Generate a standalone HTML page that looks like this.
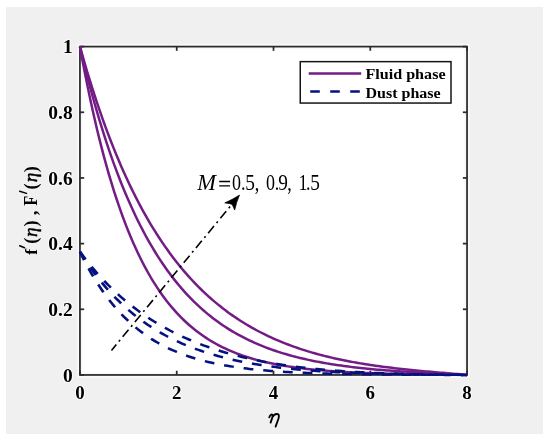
<!DOCTYPE html>
<html><head><meta charset="utf-8"><style>
html,body{margin:0;padding:0;background:#fff;}
body{width:550px;height:443px;overflow:hidden;position:relative;font-family:"Liberation Serif",serif;}
.bg{position:absolute;left:6px;top:7px;width:536.6px;height:426.7px;background:#f0f0f0;}
svg{position:absolute;left:0;top:0;filter:blur(0.35px);}
</style></head><body>
<div class="bg"></div>
<svg width="550" height="443" viewBox="0 0 550 443">
<rect x="79.95" y="46.6" width="387.1" height="328.34999999999997" fill="#fff" stroke="#f9f9f9" stroke-width="5.5"/>
<line x1="79.95" y1="374.95" x2="79.95" y2="370.75" stroke="#2b2b2b" stroke-width="1.75"/>
<line x1="79.95" y1="46.6" x2="79.95" y2="50.800000000000004" stroke="#2b2b2b" stroke-width="1.75"/>
<line x1="176.73" y1="374.95" x2="176.73" y2="370.75" stroke="#2b2b2b" stroke-width="1.75"/>
<line x1="176.73" y1="46.6" x2="176.73" y2="50.800000000000004" stroke="#2b2b2b" stroke-width="1.75"/>
<line x1="273.50" y1="374.95" x2="273.50" y2="370.75" stroke="#2b2b2b" stroke-width="1.75"/>
<line x1="273.50" y1="46.6" x2="273.50" y2="50.800000000000004" stroke="#2b2b2b" stroke-width="1.75"/>
<line x1="370.28" y1="374.95" x2="370.28" y2="370.75" stroke="#2b2b2b" stroke-width="1.75"/>
<line x1="370.28" y1="46.6" x2="370.28" y2="50.800000000000004" stroke="#2b2b2b" stroke-width="1.75"/>
<line x1="467.05" y1="374.95" x2="467.05" y2="370.75" stroke="#2b2b2b" stroke-width="1.75"/>
<line x1="467.05" y1="46.6" x2="467.05" y2="50.800000000000004" stroke="#2b2b2b" stroke-width="1.75"/>
<line x1="79.95" y1="374.95" x2="84.15" y2="374.95" stroke="#2b2b2b" stroke-width="1.75"/>
<line x1="467.05" y1="374.95" x2="462.85" y2="374.95" stroke="#2b2b2b" stroke-width="1.75"/>
<line x1="79.95" y1="309.28" x2="84.15" y2="309.28" stroke="#2b2b2b" stroke-width="1.75"/>
<line x1="467.05" y1="309.28" x2="462.85" y2="309.28" stroke="#2b2b2b" stroke-width="1.75"/>
<line x1="79.95" y1="243.61" x2="84.15" y2="243.61" stroke="#2b2b2b" stroke-width="1.75"/>
<line x1="467.05" y1="243.61" x2="462.85" y2="243.61" stroke="#2b2b2b" stroke-width="1.75"/>
<line x1="79.95" y1="177.94" x2="84.15" y2="177.94" stroke="#2b2b2b" stroke-width="1.75"/>
<line x1="467.05" y1="177.94" x2="462.85" y2="177.94" stroke="#2b2b2b" stroke-width="1.75"/>
<line x1="79.95" y1="112.27" x2="84.15" y2="112.27" stroke="#2b2b2b" stroke-width="1.75"/>
<line x1="467.05" y1="112.27" x2="462.85" y2="112.27" stroke="#2b2b2b" stroke-width="1.75"/>
<line x1="79.95" y1="46.60" x2="84.15" y2="46.60" stroke="#2b2b2b" stroke-width="1.75"/>
<line x1="467.05" y1="46.60" x2="462.85" y2="46.60" stroke="#2b2b2b" stroke-width="1.75"/>
<rect x="79.95" y="46.6" width="387.1" height="328.34999999999997" fill="none" stroke="#2b2b2b" stroke-width="1.75"/>
<path d="M79.95,46.60 L82.37,55.21 L84.79,63.60 L87.21,71.76 L89.63,79.71 L92.05,87.45 L94.47,94.99 L96.89,102.33 L99.31,109.47 L101.72,116.43 L104.14,123.21 L106.56,129.81 L108.98,136.24 L111.40,142.50 L113.82,148.60 L116.24,154.54 L118.66,160.32 L121.08,165.96 L123.50,171.45 L125.92,176.80 L128.34,182.01 L130.76,187.09 L133.18,192.03 L135.60,196.85 L138.01,201.55 L140.43,206.12 L142.85,210.58 L145.27,214.92 L147.69,219.15 L150.11,223.28 L152.53,227.30 L154.95,231.21 L157.37,235.03 L159.79,238.74 L162.21,242.37 L164.63,245.90 L167.05,249.34 L169.47,252.69 L171.89,255.96 L174.31,259.14 L176.73,262.25 L179.14,265.27 L181.56,268.22 L183.98,271.09 L186.40,273.89 L188.82,276.61 L191.24,279.27 L193.66,281.86 L196.08,284.39 L198.50,286.85 L200.92,289.24 L203.34,291.58 L205.76,293.86 L208.18,296.07 L210.60,298.24 L213.02,300.34 L215.44,302.40 L217.85,304.40 L220.27,306.34 L222.69,308.24 L225.11,310.09 L227.53,311.90 L229.95,313.65 L232.37,315.36 L234.79,317.03 L237.21,318.66 L239.63,320.24 L242.05,321.78 L244.47,323.28 L246.89,324.74 L249.31,326.17 L251.73,327.56 L254.15,328.91 L256.56,330.23 L258.98,331.51 L261.40,332.76 L263.82,333.97 L266.24,335.16 L268.66,336.31 L271.08,337.44 L273.50,338.53 L275.92,339.60 L278.34,340.63 L280.76,341.64 L283.18,342.63 L285.60,343.59 L288.02,344.52 L290.44,345.42 L292.86,346.31 L295.27,347.17 L297.69,348.00 L300.11,348.82 L302.53,349.61 L304.95,350.38 L307.37,351.13 L309.79,351.87 L312.21,352.58 L314.63,353.27 L317.05,353.94 L319.47,354.60 L321.89,355.23 L324.31,355.86 L326.73,356.46 L329.15,357.05 L331.57,357.62 L333.98,358.17 L336.40,358.71 L338.82,359.24 L341.24,359.75 L343.66,360.25 L346.08,360.74 L348.50,361.21 L350.92,361.67 L353.34,362.11 L355.76,362.55 L358.18,362.97 L360.60,363.38 L363.02,363.78 L365.44,364.18 L367.86,364.56 L370.28,364.93 L372.69,365.29 L375.11,365.64 L377.53,365.98 L379.95,366.31 L382.37,366.64 L384.79,366.95 L387.21,367.26 L389.63,367.56 L392.05,367.86 L394.47,368.15 L396.89,368.43 L399.31,368.70 L401.73,368.97 L404.15,369.23 L406.57,369.49 L408.99,369.74 L411.40,369.99 L413.82,370.23 L416.24,370.47 L418.66,370.70 L421.08,370.93 L423.50,371.15 L425.92,371.38 L428.34,371.60 L430.76,371.81 L433.18,372.03 L435.60,372.24 L438.02,372.45 L440.44,372.66 L442.86,372.87 L445.28,373.07 L447.69,373.28 L450.11,373.49 L452.53,373.69 L454.95,373.90 L457.37,374.11 L459.79,374.31 L462.21,374.52 L464.63,374.74 L467.05,374.95" fill="none" stroke="#731c86" stroke-width="2.5"/>
<path d="M79.95,46.60 L82.37,56.74 L84.79,66.57 L87.21,76.10 L89.63,85.34 L92.05,94.29 L94.47,102.98 L96.89,111.40 L99.31,119.56 L101.72,127.47 L104.14,135.15 L106.56,142.59 L108.98,149.80 L111.40,156.79 L113.82,163.57 L116.24,170.14 L118.66,176.51 L121.08,182.69 L123.50,188.68 L125.92,194.48 L128.34,200.11 L130.76,205.56 L133.18,210.85 L135.60,215.98 L138.01,220.95 L140.43,225.77 L142.85,230.44 L145.27,234.97 L147.69,239.36 L150.11,243.61 L152.53,247.74 L154.95,251.74 L157.37,255.61 L159.79,259.37 L162.21,263.01 L164.63,266.54 L167.05,269.96 L169.47,273.28 L171.89,276.49 L174.31,279.61 L176.73,282.63 L179.14,285.55 L181.56,288.39 L183.98,291.14 L186.40,293.80 L188.82,296.39 L191.24,298.89 L193.66,301.31 L196.08,303.66 L198.50,305.94 L200.92,308.15 L203.34,310.29 L205.76,312.36 L208.18,314.37 L210.60,316.31 L213.02,318.20 L215.44,320.02 L217.85,321.79 L220.27,323.51 L222.69,325.17 L225.11,326.78 L227.53,328.34 L229.95,329.85 L232.37,331.31 L234.79,332.73 L237.21,334.10 L239.63,335.43 L242.05,336.72 L244.47,337.97 L246.89,339.18 L249.31,340.35 L251.73,341.49 L254.15,342.58 L256.56,343.65 L258.98,344.68 L261.40,345.68 L263.82,346.64 L266.24,347.58 L268.66,348.48 L271.08,349.36 L273.50,350.21 L275.92,351.04 L278.34,351.83 L280.76,352.60 L283.18,353.35 L285.60,354.07 L288.02,354.77 L290.44,355.45 L292.86,356.11 L295.27,356.74 L297.69,357.36 L300.11,357.95 L302.53,358.53 L304.95,359.09 L307.37,359.63 L309.79,360.15 L312.21,360.66 L314.63,361.15 L317.05,361.62 L319.47,362.08 L321.89,362.53 L324.31,362.96 L326.73,363.37 L329.15,363.78 L331.57,364.17 L333.98,364.55 L336.40,364.91 L338.82,365.27 L341.24,365.61 L343.66,365.94 L346.08,366.26 L348.50,366.57 L350.92,366.88 L353.34,367.17 L355.76,367.45 L358.18,367.72 L360.60,367.99 L363.02,368.25 L365.44,368.50 L367.86,368.74 L370.28,368.97 L372.69,369.20 L375.11,369.42 L377.53,369.63 L379.95,369.84 L382.37,370.04 L384.79,370.24 L387.21,370.43 L389.63,370.61 L392.05,370.79 L394.47,370.97 L396.89,371.14 L399.31,371.30 L401.73,371.47 L404.15,371.62 L406.57,371.78 L408.99,371.93 L411.40,372.07 L413.82,372.22 L416.24,372.36 L418.66,372.49 L421.08,372.63 L423.50,372.76 L425.92,372.89 L428.34,373.02 L430.76,373.15 L433.18,373.27 L435.60,373.39 L438.02,373.52 L440.44,373.64 L442.86,373.76 L445.28,373.87 L447.69,373.99 L450.11,374.11 L452.53,374.23 L454.95,374.35 L457.37,374.47 L459.79,374.59 L462.21,374.71 L464.63,374.83 L467.05,374.95" fill="none" stroke="#731c86" stroke-width="2.5"/>
<path d="M79.95,46.60 L82.37,59.79 L84.79,72.45 L87.21,84.62 L89.63,96.30 L92.05,107.53 L94.47,118.31 L96.89,128.66 L99.31,138.61 L101.72,148.16 L104.14,157.33 L106.56,166.14 L108.98,174.59 L111.40,182.72 L113.82,190.51 L116.24,198.00 L118.66,205.19 L121.08,212.10 L123.50,218.72 L125.92,225.09 L128.34,231.19 L130.76,237.06 L133.18,242.69 L135.60,248.09 L138.01,253.28 L140.43,258.26 L142.85,263.03 L145.27,267.62 L147.69,272.02 L150.11,276.25 L152.53,280.30 L154.95,284.19 L157.37,287.93 L159.79,291.51 L162.21,294.95 L164.63,298.25 L167.05,301.41 L169.47,304.45 L171.89,307.36 L174.31,310.16 L176.73,312.84 L179.14,315.41 L181.56,317.88 L183.98,320.25 L186.40,322.52 L188.82,324.70 L191.24,326.79 L193.66,328.79 L196.08,330.72 L198.50,332.56 L200.92,334.33 L203.34,336.02 L205.76,337.65 L208.18,339.21 L210.60,340.70 L213.02,342.14 L215.44,343.51 L217.85,344.83 L220.27,346.10 L222.69,347.31 L225.11,348.47 L227.53,349.58 L229.95,350.65 L232.37,351.68 L234.79,352.66 L237.21,353.60 L239.63,354.50 L242.05,355.36 L244.47,356.19 L246.89,356.99 L249.31,357.75 L251.73,358.48 L254.15,359.18 L256.56,359.84 L258.98,360.49 L261.40,361.10 L263.82,361.69 L266.24,362.26 L268.66,362.80 L271.08,363.32 L273.50,363.81 L275.92,364.29 L278.34,364.74 L280.76,365.18 L283.18,365.60 L285.60,366.00 L288.02,366.39 L290.44,366.75 L292.86,367.11 L295.27,367.44 L297.69,367.77 L300.11,368.08 L302.53,368.37 L304.95,368.66 L307.37,368.93 L309.79,369.19 L312.21,369.44 L314.63,369.68 L317.05,369.91 L319.47,370.13 L321.89,370.34 L324.31,370.54 L326.73,370.73 L329.15,370.92 L331.57,371.09 L333.98,371.26 L336.40,371.43 L338.82,371.58 L341.24,371.73 L343.66,371.87 L346.08,372.01 L348.50,372.14 L350.92,372.26 L353.34,372.38 L355.76,372.50 L358.18,372.61 L360.60,372.72 L363.02,372.82 L365.44,372.91 L367.86,373.01 L370.28,373.10 L372.69,373.18 L375.11,373.26 L377.53,373.34 L379.95,373.42 L382.37,373.49 L384.79,373.56 L387.21,373.63 L389.63,373.69 L392.05,373.75 L394.47,373.81 L396.89,373.87 L399.31,373.92 L401.73,373.98 L404.15,374.03 L406.57,374.08 L408.99,374.12 L411.40,374.17 L413.82,374.21 L416.24,374.25 L418.66,374.30 L421.08,374.34 L423.50,374.37 L425.92,374.41 L428.34,374.45 L430.76,374.48 L433.18,374.52 L435.60,374.55 L438.02,374.59 L440.44,374.62 L442.86,374.65 L445.28,374.68 L447.69,374.71 L450.11,374.74 L452.53,374.77 L454.95,374.80 L457.37,374.83 L459.79,374.86 L462.21,374.89 L464.63,374.92 L467.05,374.95" fill="none" stroke="#731c86" stroke-width="2.5"/>
<path d="M79.95,269.45 L82.37,272.94 L84.79,276.33 L87.21,279.64 L89.63,282.86 L92.05,285.99 L94.47,289.05 L96.89,292.02 L99.31,294.92 L101.72,297.74 L104.14,300.49 L106.56,303.16 L108.98,305.77 L111.40,308.32 L113.82,310.79 L116.24,313.21 L118.66,315.56 L121.08,317.85 L123.50,320.09 L125.92,322.27 L128.34,324.39 L130.76,326.46 L133.18,328.48 L135.60,330.45 L138.01,332.37 L140.43,334.24 L142.85,336.06 L145.27,337.84 L147.69,339.57 L150.11,341.27 L152.53,342.92 L154.95,344.52 L157.37,346.09 L159.79,347.62 L162.21,349.11 L164.63,350.57 L167.05,351.98 L169.47,353.37 L171.89,354.72 L174.31,356.03 L176.73,357.31 L179.14,358.56 L181.56,359.78 L183.98,360.97 L186.40,362.13 L188.82,363.26 L191.24,364.36 L193.66,365.43 L196.08,366.48 L198.50,367.50 L200.92,368.50 L203.34,369.47 L205.76,370.41 L208.18,371.33 L210.60,372.23 L213.02,373.10 L215.44,373.96 L217.85,374.79 L220.27,375.60 L222.69,376.38 L225.11,377.15 L227.53,377.90 L229.95,378.63 L232.37,379.33 L234.79,380.02 L237.21,380.70 L239.63,381.35 L242.05,381.99 L244.47,382.60 L246.89,383.21 L249.31,383.79 L251.73,384.36 L254.15,384.92 L256.56,385.46 L258.98,385.98 L261.40,386.49 L263.82,386.99 L266.24,387.47 L268.66,387.94 L271.08,388.39 L273.50,388.83 L275.92,389.26 L278.34,389.68 L280.76,390.09 L283.18,390.48 L285.60,390.86 L288.02,391.23 L290.44,391.59 L292.86,391.94 L295.27,392.28 L297.69,392.60 L300.11,392.92 L302.53,393.23 L304.95,393.53 L307.37,393.82 L309.79,394.10 L312.21,394.37 L314.63,394.63 L317.05,394.89 L319.47,395.13 L321.89,395.37 L324.31,395.60 L326.73,395.82 L329.15,396.04 L331.57,396.25 L333.98,396.45 L336.40,396.65 L338.82,396.83 L341.24,397.02 L343.66,397.19 L346.08,397.36 L348.50,397.52 L350.92,397.68 L353.34,397.83 L355.76,397.98 L358.18,398.12 L360.60,398.26 L363.02,398.39 L365.44,398.52 L367.86,398.64 L370.28,398.76 L372.69,398.87 L375.11,398.98 L377.53,399.09 L379.95,399.19 L382.37,399.29 L384.79,399.38 L387.21,399.47 L389.63,399.56 L392.05,399.64 L394.47,399.72 L396.89,399.80 L399.31,399.87 L401.73,399.95 L404.15,400.02 L406.57,400.08 L408.99,400.15 L411.40,400.21 L413.82,400.27 L416.24,400.33 L418.66,400.38 L421.08,400.43 L423.50,400.49 L425.92,400.54 L428.34,400.58 L430.76,400.63 L433.18,400.68 L435.60,400.72 L438.02,400.76 L440.44,400.80 L442.86,400.84 L445.28,400.88 L447.69,400.92 L450.11,400.96 L452.53,400.99 L454.95,401.03 L457.37,401.06 L459.79,401.10 L462.21,401.13 L464.63,401.16 L467.05,401.20" transform="scale(1,0.93458)" fill="none" stroke="#04127f" stroke-width="2.675" stroke-dasharray="9.8,9.95"/>
<path d="M79.95,269.45 L82.37,273.57 L84.79,277.57 L87.21,281.44 L89.63,285.18 L92.05,288.82 L94.47,292.33 L96.89,295.74 L99.31,299.05 L101.72,302.25 L104.14,305.35 L106.56,308.35 L108.98,311.27 L111.40,314.09 L113.82,316.83 L116.24,319.48 L118.66,322.05 L121.08,324.55 L123.50,326.96 L125.92,329.31 L128.34,331.58 L130.76,333.78 L133.18,335.92 L135.60,337.99 L138.01,339.99 L140.43,341.94 L142.85,343.83 L145.27,345.66 L147.69,347.43 L150.11,349.15 L152.53,350.82 L154.95,352.44 L157.37,354.01 L159.79,355.53 L162.21,357.01 L164.63,358.44 L167.05,359.82 L169.47,361.17 L171.89,362.47 L174.31,363.74 L176.73,364.97 L179.14,366.15 L181.56,367.31 L183.98,368.43 L186.40,369.51 L188.82,370.56 L191.24,371.58 L193.66,372.57 L196.08,373.52 L198.50,374.45 L200.92,375.35 L203.34,376.22 L205.76,377.07 L208.18,377.89 L210.60,378.68 L213.02,379.45 L215.44,380.19 L217.85,380.92 L220.27,381.62 L222.69,382.29 L225.11,382.95 L227.53,383.59 L229.95,384.20 L232.37,384.80 L234.79,385.38 L237.21,385.94 L239.63,386.48 L242.05,387.00 L244.47,387.51 L246.89,388.00 L249.31,388.48 L251.73,388.94 L254.15,389.38 L256.56,389.82 L258.98,390.23 L261.40,390.64 L263.82,391.03 L266.24,391.40 L268.66,391.77 L271.08,392.12 L273.50,392.46 L275.92,392.79 L278.34,393.11 L280.76,393.42 L283.18,393.72 L285.60,394.01 L288.02,394.28 L290.44,394.55 L292.86,394.81 L295.27,395.06 L297.69,395.30 L300.11,395.54 L302.53,395.76 L304.95,395.98 L307.37,396.19 L309.79,396.39 L312.21,396.59 L314.63,396.77 L317.05,396.95 L319.47,397.13 L321.89,397.30 L324.31,397.46 L326.73,397.62 L329.15,397.77 L331.57,397.91 L333.98,398.05 L336.40,398.19 L338.82,398.32 L341.24,398.44 L343.66,398.56 L346.08,398.68 L348.50,398.79 L350.92,398.90 L353.34,399.00 L355.76,399.10 L358.18,399.19 L360.60,399.29 L363.02,399.37 L365.44,399.46 L367.86,399.54 L370.28,399.62 L372.69,399.69 L375.11,399.77 L377.53,399.84 L379.95,399.90 L382.37,399.97 L384.79,400.03 L387.21,400.09 L389.63,400.14 L392.05,400.20 L394.47,400.25 L396.89,400.30 L399.31,400.35 L401.73,400.40 L404.15,400.44 L406.57,400.48 L408.99,400.52 L411.40,400.56 L413.82,400.60 L416.24,400.64 L418.66,400.67 L421.08,400.71 L423.50,400.74 L425.92,400.77 L428.34,400.80 L430.76,400.83 L433.18,400.86 L435.60,400.89 L438.02,400.92 L440.44,400.94 L442.86,400.97 L445.28,400.99 L447.69,401.02 L450.11,401.04 L452.53,401.06 L454.95,401.09 L457.37,401.11 L459.79,401.13 L462.21,401.15 L464.63,401.18 L467.05,401.20" transform="scale(1,0.93458)" fill="none" stroke="#04127f" stroke-width="2.675" stroke-dasharray="9.8,9.95"/>
<path d="M79.95,269.45 L82.37,274.69 L84.79,279.74 L87.21,284.59 L89.63,289.26 L92.05,293.75 L94.47,298.06 L96.89,302.21 L99.31,306.20 L101.72,310.03 L104.14,313.72 L106.56,317.26 L108.98,320.66 L111.40,323.93 L113.82,327.08 L116.24,330.10 L118.66,333.00 L121.08,335.79 L123.50,338.47 L125.92,341.04 L128.34,343.51 L130.76,345.88 L133.18,348.16 L135.60,350.35 L138.01,352.45 L140.43,354.47 L142.85,356.41 L145.27,358.27 L147.69,360.06 L150.11,361.77 L152.53,363.42 L154.95,365.00 L157.37,366.51 L159.79,367.97 L162.21,369.36 L164.63,370.70 L167.05,371.99 L169.47,373.22 L171.89,374.40 L174.31,375.54 L176.73,376.62 L179.14,377.67 L181.56,378.67 L183.98,379.63 L186.40,380.55 L188.82,381.43 L191.24,382.28 L193.66,383.09 L196.08,383.86 L198.50,384.61 L200.92,385.32 L203.34,386.01 L205.76,386.66 L208.18,387.29 L210.60,387.89 L213.02,388.47 L215.44,389.02 L217.85,389.55 L220.27,390.06 L222.69,390.55 L225.11,391.01 L227.53,391.46 L229.95,391.89 L232.37,392.29 L234.79,392.69 L237.21,393.06 L239.63,393.42 L242.05,393.76 L244.47,394.09 L246.89,394.41 L249.31,394.71 L251.73,395.00 L254.15,395.27 L256.56,395.54 L258.98,395.79 L261.40,396.03 L263.82,396.26 L266.24,396.48 L268.66,396.70 L271.08,396.90 L273.50,397.09 L275.92,397.28 L278.34,397.45 L280.76,397.62 L283.18,397.79 L285.60,397.94 L288.02,398.09 L290.44,398.23 L292.86,398.37 L295.27,398.49 L297.69,398.62 L300.11,398.74 L302.53,398.85 L304.95,398.96 L307.37,399.06 L309.79,399.16 L312.21,399.25 L314.63,399.34 L317.05,399.43 L319.47,399.51 L321.89,399.59 L324.31,399.67 L326.73,399.74 L329.15,399.80 L331.57,399.87 L333.98,399.93 L336.40,399.99 L338.82,400.05 L341.24,400.10 L343.66,400.16 L346.08,400.20 L348.50,400.25 L350.92,400.30 L353.34,400.34 L355.76,400.38 L358.18,400.42 L360.60,400.46 L363.02,400.49 L365.44,400.53 L367.86,400.56 L370.28,400.59 L372.69,400.62 L375.11,400.65 L377.53,400.68 L379.95,400.70 L382.37,400.73 L384.79,400.75 L387.21,400.78 L389.63,400.80 L392.05,400.82 L394.47,400.84 L396.89,400.86 L399.31,400.88 L401.73,400.89 L404.15,400.91 L406.57,400.93 L408.99,400.94 L411.40,400.96 L413.82,400.97 L416.24,400.99 L418.66,401.00 L421.08,401.01 L423.50,401.02 L425.92,401.04 L428.34,401.05 L430.76,401.06 L433.18,401.07 L435.60,401.08 L438.02,401.09 L440.44,401.10 L442.86,401.11 L445.28,401.12 L447.69,401.13 L450.11,401.14 L452.53,401.15 L454.95,401.15 L457.37,401.16 L459.79,401.17 L462.21,401.18 L464.63,401.19 L467.05,401.20" transform="scale(1,0.93458)" fill="none" stroke="#04127f" stroke-width="2.675" stroke-dasharray="9.8,9.95"/>
<text transform="translate(79.95,399.1) scale(1.05,1)" text-anchor="middle" font-family="Liberation Serif" font-weight="bold" font-size="18" fill="#000" stroke="#fafafa" stroke-width="2.2" paint-order="stroke" stroke-linejoin="round">0</text>
<text transform="translate(176.73,399.1) scale(1.05,1)" text-anchor="middle" font-family="Liberation Serif" font-weight="bold" font-size="18" fill="#000" stroke="#fafafa" stroke-width="2.2" paint-order="stroke" stroke-linejoin="round">2</text>
<text transform="translate(273.50,399.1) scale(1.05,1)" text-anchor="middle" font-family="Liberation Serif" font-weight="bold" font-size="18" fill="#000" stroke="#fafafa" stroke-width="2.2" paint-order="stroke" stroke-linejoin="round">4</text>
<text transform="translate(370.28,399.1) scale(1.05,1)" text-anchor="middle" font-family="Liberation Serif" font-weight="bold" font-size="18" fill="#000" stroke="#fafafa" stroke-width="2.2" paint-order="stroke" stroke-linejoin="round">6</text>
<text transform="translate(467.05,399.1) scale(1.05,1)" text-anchor="middle" font-family="Liberation Serif" font-weight="bold" font-size="18" fill="#000" stroke="#fafafa" stroke-width="2.2" paint-order="stroke" stroke-linejoin="round">8</text>
<text transform="translate(72.6,381.65) scale(1.08,1)" text-anchor="end" font-family="Liberation Serif" font-weight="bold" font-size="18" fill="#000" stroke="#fafafa" stroke-width="2.2" paint-order="stroke" stroke-linejoin="round">0</text>
<text transform="translate(72.6,315.98) scale(1.08,1)" text-anchor="end" font-family="Liberation Serif" font-weight="bold" font-size="18" fill="#000" stroke="#fafafa" stroke-width="2.2" paint-order="stroke" stroke-linejoin="round">0.2</text>
<text transform="translate(72.6,250.31) scale(1.08,1)" text-anchor="end" font-family="Liberation Serif" font-weight="bold" font-size="18" fill="#000" stroke="#fafafa" stroke-width="2.2" paint-order="stroke" stroke-linejoin="round">0.4</text>
<text transform="translate(72.6,184.64) scale(1.08,1)" text-anchor="end" font-family="Liberation Serif" font-weight="bold" font-size="18" fill="#000" stroke="#fafafa" stroke-width="2.2" paint-order="stroke" stroke-linejoin="round">0.6</text>
<text transform="translate(72.6,118.97) scale(1.08,1)" text-anchor="end" font-family="Liberation Serif" font-weight="bold" font-size="18" fill="#000" stroke="#fafafa" stroke-width="2.2" paint-order="stroke" stroke-linejoin="round">0.8</text>
<text transform="translate(72.6,53.30) scale(1.08,1)" text-anchor="end" font-family="Liberation Serif" font-weight="bold" font-size="18" fill="#000" stroke="#fafafa" stroke-width="2.2" paint-order="stroke" stroke-linejoin="round">1</text>
<path d="M269.3,417.4 C269.8,415.0 271.6,413.9 272.5,415.0 C272.9,415.6 272.6,416.6 272.3,417.6 L270.6,422.6 M272.3,417.2 C273.8,414.6 276.3,413.6 277.9,414.2 C279.3,414.8 279.0,416.6 278.6,418.2 L275.6,426.6" fill="none" stroke="#000" stroke-width="1.85" stroke-linecap="round" stroke-linejoin="round"/>
<g transform="translate(37.3,256.0) rotate(-90)"><text transform="translate(1.17,0) scale(1.0,1)" font-family="Liberation Serif" font-weight="bold" font-style="normal" font-size="17.5" fill="#000">f</text><text transform="translate(12.20,0) scale(1.0,1)" font-family="Liberation Serif" font-weight="bold" font-style="normal" font-size="18.3" fill="#000">(</text><text transform="translate(19.10,0) scale(1.0,1)" font-family="Liberation Serif" font-weight="normal" font-style="italic" font-size="19.5" fill="#000" stroke="#000" stroke-width="0.45">η</text><text transform="translate(29.41,0) scale(1.0,1)" font-family="Liberation Serif" font-weight="bold" font-style="normal" font-size="18.3" fill="#000">)</text><text transform="translate(40.76,0) scale(1.0,1)" font-family="Liberation Serif" font-weight="bold" font-style="normal" font-size="18.5" fill="#000">,</text><text transform="translate(50.22,0) scale(0.88,1)" font-family="Liberation Serif" font-weight="bold" font-style="normal" font-size="18.5" fill="#000">F</text><text transform="translate(66.60,0) scale(1.0,1)" font-family="Liberation Serif" font-weight="bold" font-style="normal" font-size="18.3" fill="#000">(</text><text transform="translate(73.80,0) scale(1.0,1)" font-family="Liberation Serif" font-weight="normal" font-style="italic" font-size="19.5" fill="#000" stroke="#000" stroke-width="0.45">η</text><text transform="translate(83.71,0) scale(1.0,1)" font-family="Liberation Serif" font-weight="bold" font-style="normal" font-size="18.3" fill="#000">)</text><line x1="8.3" y1="-12.8" x2="10.2" y2="-17.6" stroke="#000" stroke-width="1.5" stroke-linecap="round"/><line x1="62.6" y1="-10.8" x2="64.7" y2="-17.6" stroke="#000" stroke-width="1.5" stroke-linecap="round"/></g>
<line x1="111.5" y1="350.4" x2="232.50" y2="203.59" stroke="#000" stroke-width="1.6" stroke-dasharray="9.2,4.0,2.0,4.0" stroke-dashoffset="1.65"/>
<path d="M239.50,195.10 Q232.88,199.36 224.77,202.91 Q230.44,203.57 231.87,204.36 Q232.91,205.61 234.69,210.06 Q236.46,201.93 239.50,195.10 Z" fill="#000" stroke="#000" stroke-width="0.7" stroke-linejoin="round"/>
<path d="M219.2,181.5 H230.0 M219.2,185.8 H230.0" stroke="#000" stroke-width="1.3"/>
<text transform="translate(197.16,190.10) scale(1.0,1)" font-family="Liberation Serif" font-style="italic" font-size="22.5" fill="#000">M</text>
<text transform="translate(232.01,190.10) scale(0.8,1)" font-family="Liberation Serif" font-style="normal" font-size="22.5" fill="#000">0</text>
<text transform="translate(241.01,190.10) scale(0.8,1)" font-family="Liberation Serif" font-style="normal" font-size="22.5" fill="#000">.</text>
<text transform="translate(245.28,190.10) scale(0.86,1)" font-family="Liberation Serif" font-style="normal" font-size="22.5" fill="#000">5</text>
<text transform="translate(254.71,190.10) scale(0.8,1)" font-family="Liberation Serif" font-style="normal" font-size="22.5" fill="#000">,</text>
<text transform="translate(266.11,190.10) scale(0.8,1)" font-family="Liberation Serif" font-style="normal" font-size="22.5" fill="#000">0</text>
<text transform="translate(274.81,190.10) scale(0.8,1)" font-family="Liberation Serif" font-style="normal" font-size="22.5" fill="#000">.</text>
<text transform="translate(278.28,190.10) scale(0.86,1)" font-family="Liberation Serif" font-style="normal" font-size="22.5" fill="#000">9</text>
<text transform="translate(287.31,190.10) scale(0.8,1)" font-family="Liberation Serif" font-style="normal" font-size="22.5" fill="#000">,</text>
<text transform="translate(298.42,190.10) scale(0.8,1)" font-family="Liberation Serif" font-style="normal" font-size="22.5" fill="#000">1</text>
<text transform="translate(306.01,190.10) scale(0.8,1)" font-family="Liberation Serif" font-style="normal" font-size="22.5" fill="#000">.</text>
<text transform="translate(310.28,190.10) scale(0.86,1)" font-family="Liberation Serif" font-style="normal" font-size="22.5" fill="#000">5</text>
<rect x="300.25" y="61.65" width="150.75" height="41.4" fill="#fff" stroke="#151515" stroke-width="1.5"/>
<line x1="308.7" y1="73.45" x2="361.2" y2="73.45" stroke="#731c86" stroke-width="2.5"/>
<line x1="310.2" y1="91.5" x2="360" y2="91.5" stroke="#04127f" stroke-width="2.5" stroke-dasharray="9.6,10.4"/>
<text transform="translate(365.44,79.4) scale(1.04,1)" font-family="Liberation Serif" font-weight="bold" font-size="15.5" fill="#000">Fluid phase</text>
<text transform="translate(365.43,97.6) scale(1.035,1)" font-family="Liberation Serif" font-weight="bold" font-size="15.5" fill="#000">Dust phase</text>
</svg>
</body></html>
